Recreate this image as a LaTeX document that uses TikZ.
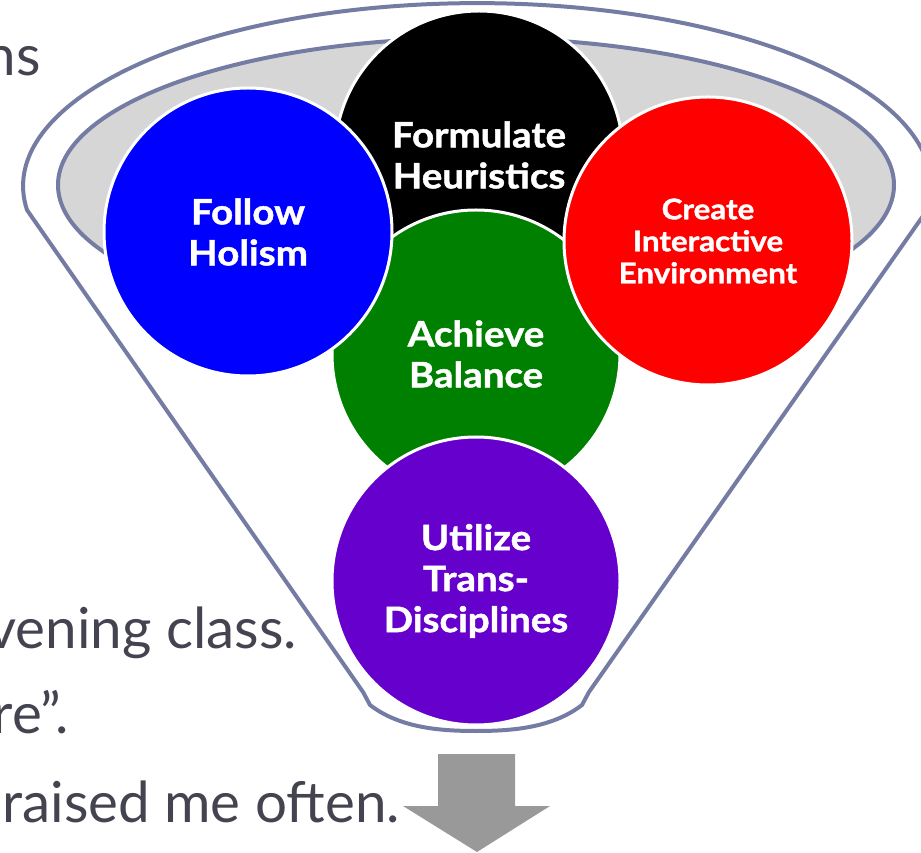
\documentclass[tikz,border=0pt]{standalone}
\usepackage{fontspec}
\setmainfont{Lato}
\newfontfamily\bubblefont{Lato}[FakeStretch=1.1, BoldFeatures={FakeBold=1.3}]
\definecolor{rim}{RGB}{116,124,164}
\definecolor{bodytxt}{RGB}{68,68,80}
\definecolor{ltgray}{RGB}{214,214,214}
\definecolor{arrowgray}{RGB}{153,153,153}
\definecolor{cgreen}{RGB}{0,128,0}
\definecolor{cpurple}{RGB}{102,0,204}
\begin{document}
\begin{tikzpicture}[x=1pt,y=1pt,
  bubble/.style={circle, draw=white, line width=3pt, minimum size=288pt, inner sep=0pt,
    text=white, align=center, font=\bubblefont\bfseries\fontsize{35}{41}\selectfont},
  smallbubble/.style={bubble, font=\bubblefont\bfseries\fontsize{28.5}{32}\selectfont},
  bodytext/.style={anchor=base east, text=bodytxt, inner sep=0pt, font=\fontsize{56.5}{70}\selectfont},
  rimline/.style={draw=rim, line width=4pt, line join=round}]
\useasboundingbox (0,0) rectangle (921,852);
\clip (0,0) rectangle (921,852);
% slide text behind the funnel
\node[bodytext] (t1) at (41,776) {ns};
\node[bodytext] (t2) at (297,204) {vening class.};
\node[bodytext] (t3) at (69,119) {re''.};
\node[bodytext] (t4) at (400,30) {raised me often.};
% funnel
\draw[rimline, fill=white] (27,642)
  arc[start angle=187.5, end angle=-7.5, x radius=454, y radius=183]
  -- (589,160) -- (582,147)
  .. controls (552,124) and (512,121) .. (476,121)
  .. controls (440,121) and (400,124) .. (370,147)
  -- (363,160) -- cycle;
\draw[rimline, fill=ltgray] (476,667) ellipse[x radius=418, y radius=147];
% circles
\node[bubble, fill=black] (heur) at (479,697) {Formulate\\Heuristics};
\node[bubble, fill=cgreen] (bal) at (476,498) {Achieve\\Balance};
\node[bubble, fill=blue] (hol) at (248,620) {Follow\\Holism};
\node[smallbubble, fill=red] (env) at (708,611) {Create\\Interactive\\Environment};
\node[bubble, fill=cpurple] (util) at (476,271) {Utilize\\Trans-\\Disciplines};
% arrow
\fill[arrowgray] (438,98) -- (515,98) -- (515,46) -- (550,46) -- (477,0)
  -- (403,46) -- (438,46) -- cycle;
\end{tikzpicture}
\end{document}
